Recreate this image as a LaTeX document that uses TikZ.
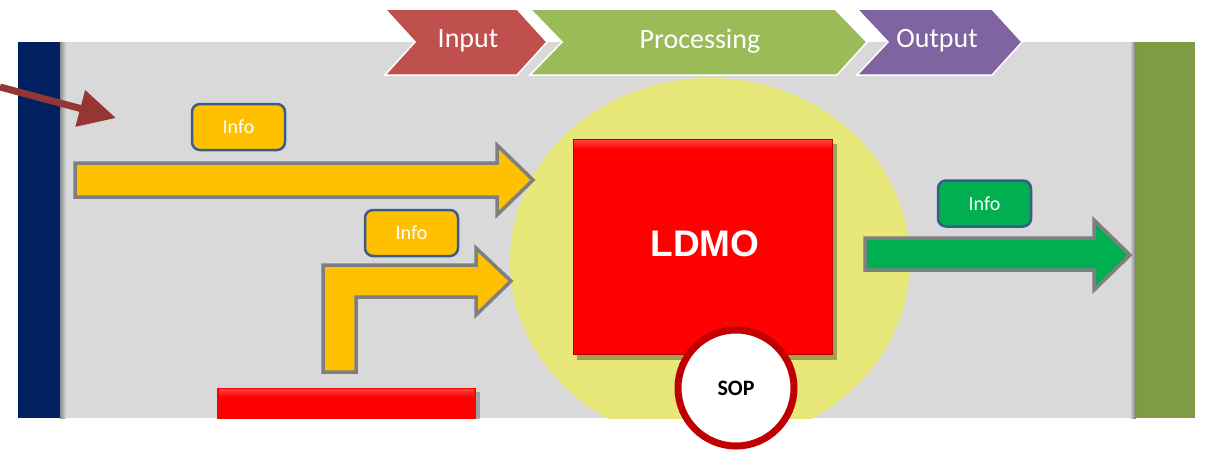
\documentclass[tikz,border=0pt]{standalone}
\usepackage{fontspec}
\setmainfont{Carlito}
\newfontfamily\blockfont{Liberation Sans}
\usetikzlibrary{positioning, arrows.meta}

\definecolor{panelgray}{RGB}{217,217,217}
\definecolor{navybar}{RGB}{0,32,96}
\definecolor{olivebar}{RGB}{128,156,66}
\definecolor{haloyellow}{RGB}{232,232,122}
\definecolor{inputred}{RGB}{192,80,77}
\definecolor{procgreen}{RGB}{155,187,89}
\definecolor{outpurple}{RGB}{128,100,162}
\definecolor{infogold}{RGB}{255,192,0}
\definecolor{infogreen}{RGB}{0,176,80}
\definecolor{boxedge}{RGB}{56,93,138}
\definecolor{arrowedge}{RGB}{127,127,127}
\definecolor{sopring}{RGB}{192,0,0}
\definecolor{pointer}{RGB}{150,54,52}

\begin{document}
\begin{tikzpicture}[x=1pt, y=-1pt,
    chevron/.style={draw=white, line width=1.5pt, line join=miter},
    chevtext/.style={text=white, font=\fontsize{28}{30}\selectfont},
    infobox/.style={draw=boxedge, line width=2.5pt, rounded corners=8pt, minimum width=93pt, minimum height=46pt, text=white, font=\fontsize{20}{22}\selectfont},
    blockarrow/.style={draw=arrowedge, line width=3.5pt, line join=miter},
    bevel/.style={top color=red!55!black!90!white, bottom color=red}]
    \useasboundingbox (0,0) rectangle (1205,451);

    % panel with the two side bars
    \fill[panelgray] (18,42) rectangle (1195,418);
    \fill[navybar] (18,42) rectangle (60,418);
    \shade[left color=black!45, right color=panelgray] (60,42) rectangle (66,418);
    \fill[olivebar] (1136,42) rectangle (1195,418);
    \shade[left color=panelgray, right color=black!55] (1130,42) rectangle (1136,418);

    % halo and blocks, cut at the panel edge
    \begin{scope}
        \clip (18,42) rectangle (1195,418);
        \fill[haloyellow] (710,261) ellipse [x radius=200, y radius=183];
        \fill[black, opacity=.25] (221,392) rectangle (480,420);
        \fill[red] (217,388) rectangle (476,420);
        \shade[top color=red!75!white, bottom color=red] (219,389) rectangle (474,397);
    \end{scope}

    % LDMO block
    \fill[black, opacity=.3] (577,144) rectangle (837,360);
    \node[fill=red, draw=red!75!black, line width=1pt, minimum width=259pt, minimum height=215pt, inner sep=0pt] (ldmo) at (703,247) {};
    \shade[top color=red!75!white, bottom color=red] (574,140) rectangle (832,149);
    \node[text=white, font=\blockfont\bfseries\fontsize{37}{40}\selectfont] (ldmotext) at (705,244) {LDMO};

    % block arrows
    \draw[blockarrow, fill=infogold] (75,163) -- (497,163) -- (497,145) -- (533,180)
        -- (497,215) -- (497,197) -- (75,197) -- cycle;
    \draw[blockarrow, fill=infogold] (323,372) -- (323,265) -- (476,265) -- (476,248)
        -- (511,281) -- (476,315) -- (476,297) -- (356,297) -- (356,372) -- cycle;
    \draw[blockarrow, fill=infogreen] (865,238) -- (1094,238) -- (1094,220) -- (1130,255)
        -- (1094,290) -- (1094,270) -- (865,270) -- cycle;

    % info labels
    \node[infobox, fill=infogold] (infotop) at (238.5,127) {Info};
    \node[infobox, fill=infogold] (infomid) at (411.5,233) {Info};
    \node[infobox, fill=infogreen] (infoout) at (984.5,203.5) {Info};

    % process chevrons
    \draw[chevron, fill=inputred] (385,9) -- (517,9) -- (547,42) -- (517,75) -- (385,75) -- (415,42) -- cycle;
    \draw[chevron, fill=procgreen] (530,9) -- (835,9) -- (867,42) -- (837,75) -- (530,75) -- (562,42) -- cycle;
    \draw[chevron, fill=outpurple] (857,9) -- (992,9) -- (1022,42) -- (992,75) -- (857,75) -- (888,42) -- cycle;
    \node[chevtext] (input) at (468,41) {Input};
    \node[chevtext] (processing) at (700,41) {Processing};
    \node[chevtext] (output) at (937,41) {Output};

    % SOP ring
    \node[circle, draw=sopring, line width=7pt, fill=white, minimum size=116pt,
        font=\bfseries\fontsize{22}{24}\selectfont] (sop) at (736,388) {SOP};

    % pointer from the left
    \coordinate (pstart) at (0,87);
    \coordinate (ptip) at (116,118);
    \draw[pointer, line width=7pt, -{Triangle[length=37pt, width=36pt]}] (pstart) -- (ptip);
\end{tikzpicture}
\end{document}
